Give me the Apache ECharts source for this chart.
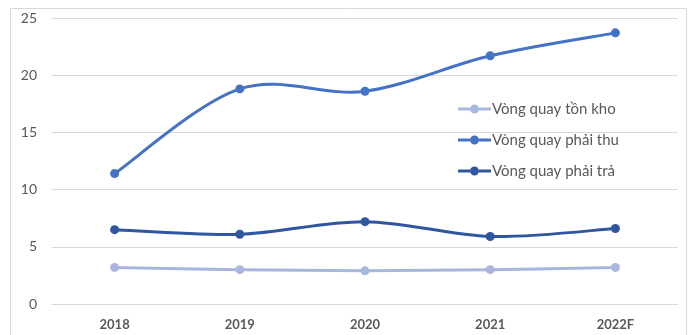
<!DOCTYPE html>
<html>
<head>
<meta charset="utf-8">
<script src="https://cdn.jsdelivr.net/npm/echarts@6/dist/echarts.min.js"></script>
<style>
  html, body { margin: 0; padding: 0; background: #fff; }
  #chart { width: 689px; height: 335px; }
</style>
</head>
<body>
<div id="chart"></div>
<script>
// Turnover ratios by year (2022 is a forecast)
const years = ['2018', '2019', '2020', '2021', '2022F'];
const inventoryTurnover = [3.2, 3.0, 2.9, 3.0, 3.2];
const receivablesTurnover = [11.4, 18.8, 18.6, 21.7, 23.7];
const payablesTurnover = [6.5, 6.1, 7.2, 5.9, 6.6];
const yTicks = [0, 5, 10, 15, 20, 25];

const FONT = 'Lato';
const TEXT = '#595959';
const COLORS = {
  inventory: '#a9b7de',
  receivables: '#4472c4',
  payables: '#2f569e'
};

// Cardinal-spline tension used for the smoothed curves
const TENSION = 1 / 6;

// Markers: a line series that only draws its circles
function markerSeries(name, data, color) {
  return {
    name: name,
    type: 'line',
    data: data,
    symbol: 'circle',
    symbolSize: 9,
    lineStyle: { width: 0, opacity: 0 },
    itemStyle: { color: color },
    emphasis: { disabled: true },
    z: 3
  };
}

// Smoothed curve: each data item draws the segment to the next point,
// with control points taken from the neighbouring points.
function curveSeries(name, values, color) {
  return {
    name: name,
    type: 'custom',
    data: values.map((v, i) => [i, v]),
    encode: { x: 0, y: 1 },
    silent: true,
    z: 2,
    renderItem: function (params, api) {
      const i = params.dataIndex;
      const n = values.length;
      if (i >= n - 1) return null;
      const p = k => api.coord([Math.max(0, Math.min(n - 1, k)), values[Math.max(0, Math.min(n - 1, k))]]);
      const p0 = p(i - 1), p1 = p(i), p2 = p(i + 1), p3 = p(i + 2);
      return {
        type: 'bezierCurve',
        shape: {
          x1: p1[0], y1: p1[1],
          x2: p2[0], y2: p2[1],
          cpx1: p1[0] + (p2[0] - p0[0]) * TENSION,
          cpy1: p1[1] + (p2[1] - p0[1]) * TENSION,
          cpx2: p2[0] - (p3[0] - p1[0]) * TENSION,
          cpy2: p2[1] - (p3[1] - p1[1]) * TENSION
        },
        style: { stroke: color, lineWidth: 3, fill: null, lineCap: 'round' }
      };
    }
  };
}

// Legend icon: a short line with a dot in its middle
const LEGEND_ICON = 'path://M0,3 L12,3 L12,6 L0,6 Z M21,3 L33,3 L33,6 L21,6 Z ' +
  'M12,4.5 A4.5,4.5 0 1,1 21,4.5 A4.5,4.5 0 1,1 12,4.5 Z';

const chart = echarts.init(document.getElementById('chart'));
chart.setOption({
  animation: false,
  backgroundColor: '#fff',
  graphic: [{
    type: 'rect',
    shape: { x: 10.5, y: 8.5, width: 676, height: 340 },
    style: { fill: 'none', stroke: '#d9d9d9', lineWidth: 1 },
    silent: true,
    z: -1
  }],
  grid: { left: 52, right: 11, top: 18, bottom: 31 },
  legend: {
    orient: 'vertical',
    left: 453,
    top: 96,
    itemGap: 15,
    itemWidth: 33,
    itemHeight: 9,
    icon: LEGEND_ICON,
    textStyle: { fontFamily: FONT, fontSize: 15, lineHeight: 16, color: TEXT, padding: [0, 0, 0, -4] },
    data: [
      { name: 'Vòng quay tồn kho', itemStyle: { color: COLORS.inventory } },
      { name: 'Vòng quay phải thu', itemStyle: { color: COLORS.receivables } },
      { name: 'Vòng quay phải trả', itemStyle: { color: COLORS.payables } }
    ],
    selectedMode: false
  },
  xAxis: {
    type: 'category',
    data: years,
    boundaryGap: true,
    axisLine: { lineStyle: { color: '#d9d9d9', width: 1 } },
    axisTick: { show: false },
    axisLabel: { fontFamily: FONT, fontSize: 13, fontWeight: 'bold', color: TEXT, margin: 14 }
  },
  yAxis: {
    type: 'value',
    min: yTicks[0],
    max: yTicks[yTicks.length - 1],
    interval: 5,
    axisLine: { show: false },
    axisTick: { show: false },
    splitLine: { lineStyle: { color: '#d9d9d9', width: 1 } },
    axisLabel: { fontFamily: FONT, fontSize: 14, color: TEXT, margin: 15 }
  },
  series: [
    curveSeries('Vòng quay tồn kho', inventoryTurnover, COLORS.inventory),
    curveSeries('Vòng quay phải thu', receivablesTurnover, COLORS.receivables),
    curveSeries('Vòng quay phải trả', payablesTurnover, COLORS.payables),
    markerSeries('Vòng quay tồn kho', inventoryTurnover, COLORS.inventory),
    markerSeries('Vòng quay phải thu', receivablesTurnover, COLORS.receivables),
    markerSeries('Vòng quay phải trả', payablesTurnover, COLORS.payables)
  ]
});
</script>
</body>
</html>
